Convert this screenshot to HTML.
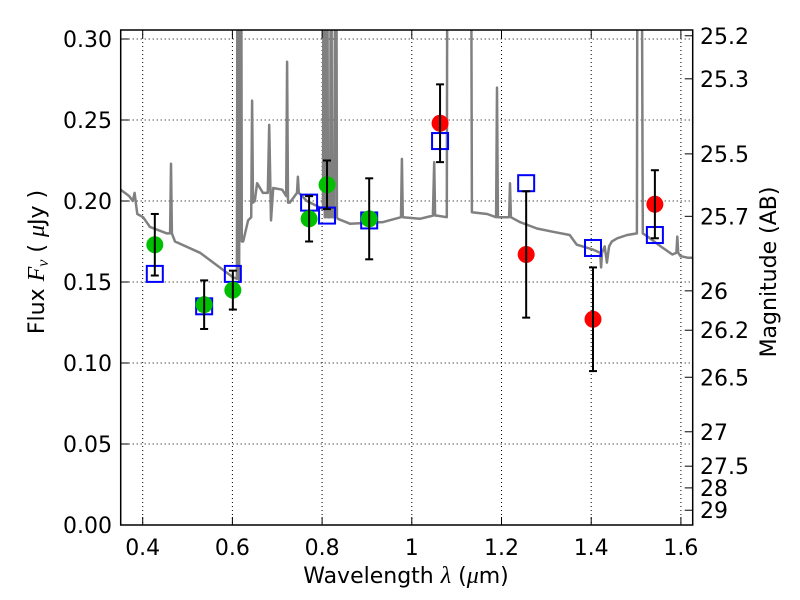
<!DOCTYPE html>
<html><head><meta charset="utf-8"><style>
body{margin:0;background:#fff}
svg{display:block;font-family:"DejaVu Sans","Liberation Sans",sans-serif}
</style></head><body>
<svg id="c" width="800" height="600" viewBox="0 0 800 600"></svg>
<script>
const specLam=[0.351,0.37,0.378,0.382,0.385,0.388,0.401,0.416,0.454,0.461,0.463,0.465,0.472,0.528,0.601,0.610,0.612,0.615,0.619,0.621,0.624,0.635,0.642,0.644,0.646,0.650,0.655,0.668,0.679,0.682,0.686,0.691,0.711,0.720,0.722,0.724,0.728,0.744,0.746,0.748,0.766,0.795,0.802,0.804,0.806,0.809,0.811,0.813,0.818,0.820,0.822,0.827,0.831,0.833,0.835,0.862,0.936,0.976,0.978,0.980,1.018,1.047,1.050,1.052,1.056,1.078,1.080,1.131,1.134,1.168,1.188,1.190,1.192,1.195,1.217,1.219,1.221,1.241,1.279,1.315,1.352,1.368,1.404,1.420,1.422,1.424,1.430,1.435,1.440,1.446,1.458,1.480,1.502,1.504,1.511,1.515,1.526,1.555,1.581,1.590,1.592,1.594,1.599,1.615,1.628];
const specFlux=[0.207,0.203,0.200,0.205,0.198,0.192,0.190,0.184,0.180,0.180,0.223,0.180,0.175,0.168,0.153,0.152,0.5,0.150,0.5,0.175,0.175,0.188,0.190,0.262,0.199,0.200,0.211,0.205,0.205,0.247,0.188,0.208,0.207,0.203,0.286,0.199,0.199,0.205,0.215,0.205,0.200,0.196,0.195,0.5,0.190,0.190,0.5,0.190,0.190,0.5,0.190,0.190,0.5,0.190,0.189,0.186,0.187,0.190,0.226,0.190,0.189,0.191,0.224,0.191,0.191,0.190,0.5,0.5,0.193,0.192,0.190,0.270,0.190,0.190,0.190,0.211,0.190,0.187,0.183,0.181,0.179,0.173,0.170,0.168,0.159,0.168,0.172,0.162,0.172,0.175,0.177,0.179,0.180,0.5,0.5,0.180,0.178,0.172,0.167,0.168,0.178,0.168,0.166,0.165,0.165];
const obsLam=[0.427,0.537,0.601,0.771,0.811,0.905,1.063,1.255,1.404,1.542];
const obsFlux=[0.173,0.136,0.145,0.189,0.210,0.189,0.248,0.167,0.127,0.198];
const obsErr=[0.019,0.015,0.012,0.014,0.015,0.025,0.024,0.039,0.032,0.021];
const obsBand=['g','g','g','g','g','g','r','r','r','r'];
const modelFlux=[0.155,0.135,0.155,0.199,0.191,0.188,0.237,0.211,0.171,0.179];
const xTicks=[0.4,0.6,0.8,1.0,1.2,1.4,1.6];
const xTickLabels=['0.4','0.6','0.8','1','1.2','1.4','1.6'];
const yTicks=[0,0.05,0.10,0.15,0.20,0.25,0.30];
const yTickLabels=['0.00','0.05','0.10','0.15','0.20','0.25','0.30'];
const magTicks=[25.2,25.3,25.5,25.7,26,26.2,26.5,27,27.5,28,29];
const magLabels=['25.2','25.3','25.5','25.7','26','26.2','26.5','27','27.5','28','29'];

const L=120.7,R=692.7,T=30,B=525;
const X=v=>142.7+(v-0.4)*448.5;
const Y=v=>525-v*1620;
const NS='http://www.w3.org/2000/svg';
const svg=document.getElementById('c');
function mk(t,a,p){const e=document.createElementNS(NS,t);for(const k in a)e.setAttribute(k,a[k]);(p||svg).appendChild(e);return e;}
const defs=mk('defs',{});
const cp=mk('clipPath',{id:'clip'},defs);mk('rect',{x:L,y:T,width:R-L,height:B-T},cp);

const grid=mk('g',{});


xTicks.forEach(v=>{mk('line',{x1:X(v),x2:X(v),y1:T,y2:B,stroke:'#000','stroke-width':1,'stroke-dasharray':'1,3'},grid);});
yTicks.forEach(v=>{mk('line',{x1:L,x2:R,y1:Y(v),y2:Y(v),stroke:'#000','stroke-width':1,'stroke-dasharray':'1,3'},grid);});

const pts=specLam.map((l,i)=>X(l).toFixed(1)+','+Y(specFlux[i]).toFixed(1)).join(' ');
const sp=mk('polyline',{points:pts,fill:'none',stroke:'#808080','stroke-width':2.5,'clip-path':'url(#clip)','stroke-linejoin':'round'});



modelFlux.forEach((f,i)=>{
  const s=mk('rect',{x:X(obsLam[i])-8,y:Y(f)-8,width:16,height:16,fill:'none',stroke:'#0000ff','stroke-width':2});
  
  
});
obsLam.forEach((l,i)=>{
  const c=mk('circle',{cx:X(l),cy:Y(obsFlux[i]),r:8.5,fill:obsBand[i]=='g'?'#00bf00':'#ff0000'});
  
  
  const g=mk('g',{stroke:'#000','stroke-width':2});
  
  
  const x=X(l),y1=Y(obsFlux[i]+obsErr[i]),y2=Y(obsFlux[i]-obsErr[i]);
  mk('line',{x1:x,x2:x,y1:y1,y2:y2},g);
  mk('line',{x1:x-4,x2:x+4,y1:y1,y2:y1},g);
  mk('line',{x1:x-4,x2:x+4,y1:y2,y2:y2},g);
});

const fr=mk('rect',{x:L,y:T,width:R-L,height:B-T,fill:'none',stroke:'#000','stroke-width':1.5});



const tk=mk('g',{stroke:'#000','stroke-width':1});
xTicks.forEach((v,i)=>{
  mk('line',{x1:X(v),x2:X(v),y1:B,y2:B-8},tk);mk('line',{x1:X(v),x2:X(v),y1:T,y2:T+8},tk);
  const t=mk('text',{x:X(v),y:B+30,'text-anchor':'middle','font-size':22});t.textContent=xTickLabels[i];
  
  
});
yTicks.forEach((v,i)=>{
  mk('line',{x1:L,x2:L+8,y1:Y(v),y2:Y(v)},tk);
  const t=mk('text',{x:112,y:Y(v)+8,'text-anchor':'end','font-size':22});t.textContent=yTickLabels[i];
  
  
});
magTicks.forEach((m,i)=>{
  const y=Y(Math.pow(10,(23.9-m)/2.5));
  mk('line',{x1:R,x2:R-8,y1:y,y2:y},tk);
  const t=mk('text',{x:700,y:y+8,'font-size':22});t.textContent=magLabels[i];
  
  
});

const xt=mk('text',{x:406,y:583,'text-anchor':'middle','font-size':22});
xt.innerHTML='Wavelength  <tspan font-family="Liberation Serif,serif" font-style="italic" font-size="24">λ</tspan> (<tspan font-family="Liberation Serif,serif" font-style="italic" font-size="24">μ</tspan>m)';


const yt=mk('text',{x:0,y:0,'text-anchor':'middle','font-size':22,transform:'translate(44,262) rotate(-90)'});
yt.innerHTML='Flux  <tspan font-family="Liberation Serif,serif" font-style="italic" font-size="24">F</tspan><tspan font-family="Liberation Serif,serif" font-style="italic" font-size="16" dy="4">ν</tspan><tspan dy="-4">  ( </tspan><tspan font-family="Liberation Serif,serif" font-style="italic" font-size="24">μ</tspan>Jy )';


const rt=mk('text',{x:0,y:0,'text-anchor':'middle','font-size':22,transform:'translate(776,272) rotate(-90)'});
rt.textContent='Magnitude (AB)';


</script>
</body></html>
